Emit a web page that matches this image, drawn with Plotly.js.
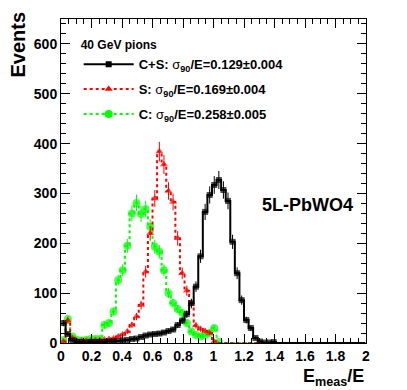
<!DOCTYPE html>
<html>
<head>
<meta charset="utf-8">
<script src="https://cdn.plot.ly/plotly-3.0.1.min.js"></script>
<style>html,body{margin:0;padding:0;background:#fff;}#plot{width:407px;height:390px;}</style>
</head>
<body>
<div id="plot"></div>
<script>
// Bin centres of E_meas/E (bin width 0.03)
const binCenters = [
  0.015,0.045,0.075,0.105,0.135,0.165,0.195,0.225,0.255,0.285,
  0.315,0.345,0.375,0.405,0.435,0.465,0.495,0.525,0.555,0.585,
  0.615,0.645,0.675,0.705,0.735,0.765,0.795,0.825,0.855,0.885,
  0.915,0.945,0.975,1.005,1.035,1.065,1.095,1.125,1.155,1.185,
  1.215,1.245,1.275,1.305,1.335,1.365,1.395,1.425,1.455,1.485,
  1.515,1.545,1.575,1.605,1.635,1.665,1.695,1.725,1.755,1.785,
  1.815,1.845,1.875,1.905,1.935,1.965,1.995
];
// C+S (black)
const eventsCS = [
  40,18,5,2,2,1,2,2,2,2,
  3,3,4,5,6,8,9,12,15,17,
  18,19,21,24,27,36,45,58,80,113,
  174,263,297,317,327,307,285,203,140,86,
  46,30,10,3,1,1,2,0,0,0,
  0,0,0,0,0,0,0,0,0,0,
  0,0,0,0,0,0,0
];
// S (red)
const eventsS = [
  3,45,10,5,5,5,5,6,6,7,
  8,9,13,17,23,36,53,76,143,220,
  290,384,358,305,283,210,140,105,78,35,
  28,24,20,3,0,0,0,0,0,0,
  0,0,0,0,0,0,0,0,0,0,
  0,0,0,0,0,0,0,0,0,0,
  0,0,0,0,0,0,0
];
// C (green)
const eventsC = [
  6,48,13,6,5,6,8,8,8,36,
  40,63,126,146,195,260,281,259,269,233,
  193,183,146,100,80,68,60,40,23,16,
  13,16,20,30,2,0,0,0,0,0,
  0,0,0,0,0,0,0,0,0,0,
  0,0,0,0,0,0,0,0,0,0,
  0,0,0,0,0,0,0
];
const legendLabels = [
  "C+S: <span style='font-weight:normal'>σ</span><sub>90</sub>/E=0.129±0.004",
  "S: <span style='font-weight:normal'>σ</span><sub>90</sub>/E=0.169±0.004",
  "C: <span style='font-weight:normal'>σ</span><sub>90</sub>/E=0.258±0.005"
];
const legendTitle = "40 GeV pions";
const detectorLabel = "5L-PbWO4";

const FONT = "Liberation Sans, Arial, Helvetica, sans-serif";

function sizes(vals, s){ return vals.map(v => v > 0 ? s : 0); }

const styles = [
  {vals: eventsCS, color:'#000000', dash:'solid', width:2, symbol:'square', size:6},
  {vals: eventsS,  color:'#ff0000', dash:'dot',   width:2, symbol:'triangle-up', size:7},
  {vals: eventsC,  color:'#00ff00', dash:'dot',   width:2, symbol:'circle', size:8}
];

const traces = [];
// draw order: green, red, black on top
[2,1,0].forEach(i => {
  const st = styles[i];
  traces.push({
    type:'scatter', mode:'lines+markers',
    x: binCenters, y: st.vals,
    line:{color:st.color, width:st.width, dash:st.dash, shape:'hvh'},
    marker:{color:st.color, symbol:st.symbol, size:sizes(st.vals, st.size), line:{width:0}},
    error_y:{type:'sqrt', visible:true, color:st.color, thickness:1, width:0},
    showlegend:false, hoverinfo:'skip'
  });
});
// legend entries
styles.forEach((st, i) => {
  traces.push({
    type:'scatter', mode:'lines+markers',
    x:[null], y:[null], name: legendLabels[i],
    legendgroup:'g'+i,
    line:{color:st.color, width:st.width, dash:st.dash},
    marker:{color:st.color, symbol:st.symbol, size:st.size}
  });
});

const axisCommon = {
  showline:true, linecolor:'#000', linewidth:1, mirror:'allticks',
  ticks:'inside', ticklen:9, tickwidth:1, tickcolor:'#000',
  showgrid:false, zeroline:false,
  tickfont:{family:FONT, size:14, color:'#000', weight:'bold'}
};

const layout = {
  width:407, height:390,
  margin:{l:61, r:41, t:19, b:47},
  paper_bgcolor:'#fff', plot_bgcolor:'#fff',
  font:{family:FONT, color:'#000'},
  xaxis: Object.assign({}, axisCommon, {
    range:[0,2], tick0:0, dtick:0.2,
    minor:{dtick:0.05, ticks:'inside', ticklen:5, tickcolor:'#000', tickwidth:1, showgrid:false}
  }),
  yaxis: Object.assign({}, axisCommon, {
    range:[0,650], tick0:0, dtick:100,
    minor:{dtick:20, ticks:'inside', ticklen:5, tickcolor:'#000', tickwidth:1, showgrid:false}
  }),
  showlegend:true,
  legend:{
    x:0.058, y:0.955, xanchor:'left', yanchor:'top',
    bgcolor:'rgba(0,0,0,0)', borderwidth:0,
    itemwidth:50,
    font:{family:FONT, size:13, color:'#000', weight:'bold'},
    title:{text:legendTitle, font:{family:FONT, size:12, color:'#000', weight:'bold'}},
    traceorder:'grouped', tracegroupgap:5
  },
  annotations:[
    {text:'Events', xref:'paper', yref:'paper', x:-0.14, y:1.03, xanchor:'center', yanchor:'top',
     textangle:-90, showarrow:false, font:{family:FONT, size:20, color:'#000', weight:'bold'}},
    {text:'E<sub>meas</sub>/E', xref:'paper', yref:'paper', x:1.0, y:-0.105, xanchor:'right', yanchor:'middle',
     showarrow:false, font:{family:FONT, size:18, color:'#000', weight:'bold'}},
    {text:detectorLabel, xref:'paper', yref:'paper', x:0.652, y:0.426, xanchor:'left', yanchor:'middle',
     showarrow:false, font:{family:FONT, size:18, color:'#000', weight:'bold'}}
  ]
};

Plotly.newPlot('plot', traces, layout, {staticPlot:true, displayModeBar:false});
</script>
</body>
</html>
